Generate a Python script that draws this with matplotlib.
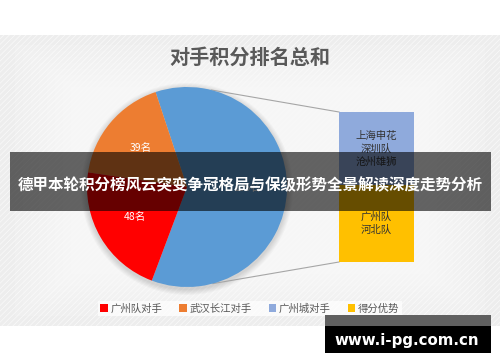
import matplotlib
matplotlib.use('Agg')
import numpy as np
import matplotlib.pyplot as plt
from matplotlib.patches import Rectangle, Circle

plt.rcParams['font.family'] = ['Noto Sans CJK SC', 'DejaVu Sans']
plt.rcParams['hatch.linewidth'] = 0.6

# 数据
pie_labels = ['广州队对手', '武汉长江对手']
pie_values = [48, 39]
bar_labels = ['广州城对手', '得分优势']
bar_values = [66, 69]
bar_names = ['上海申花\n深圳队\n沧州雄狮', '广州队\n河北队']
pie_colors = ['#FF0000', '#ED7D31']
other_color = '#5B9BD5'
bar_colors = ['#8FAADC', '#FFC000']

title = '对手积分排名总和'
banner = '德甲本轮积分榜风云突变争冠格局与保级形势全景解读深度走势分析'
site = 'www.i-pg.com.cn'

W, H = 500, 362
fig = plt.figure(figsize=(W / 100, H / 100), dpi=100)
ax = fig.add_axes([0, 0, 1, 1])

# 背景
ax.add_patch(Rectangle((0, H - 326), W, 291, facecolor='#EDEDED', edgecolor='#F8F8F8',
                       hatch='//////', lw=0, zorder=0))
for i in range(8):
    ax.add_patch(Rectangle((15 + i * 8, H - 316 + i * 6), W - 30 - i * 16, 271 - i * 12,
                           facecolor='white', edgecolor='none', alpha=0.12, zorder=0.5))

# 饼图
cx, cy, r = 187, H - 187, 100
for k in range(1, 7):
    ax.add_patch(Circle((cx, cy - 2), r + k, color='black', alpha=0.025, lw=0, zorder=1))

total = sum(pie_values) + sum(bar_values)
vals = [sum(bar_values), pie_values[1], pie_values[0]]
cols = [other_color, pie_colors[1], pie_colors[0]]
wedges, _, autotexts = ax.pie(vals, colors=cols, center=(cx, cy), radius=r,
                              startangle=249.4, counterclock=True,
                              autopct=lambda p: f'{p * total / 100:.0f}名',
                              pctdistance=0.6,
                              textprops=dict(color='white', fontsize=7.5),
                              wedgeprops=dict(lw=0))
for w in wedges:
    w.set_zorder(2)
for t in autotexts:
    t.set_zorder(3)

ax.set_xlim(0, W)
ax.set_ylim(0, H)
ax.set_aspect('auto')
ax.axis('off')

# 连接线
for ang, by in [(76, H - 112), (-75, H - 262)]:
    a = np.deg2rad(ang)
    ax.plot([cx + r * np.cos(a), 339], [cy + r * np.sin(a), by], color='#A6A6A6', lw=0.8, zorder=1.5)

# 堆叠条
bax = fig.add_axes([339 / W, (H - 262) / H, 75 / W, 150 / H])
b1 = bax.bar(0, bar_values[1], width=1, color=bar_colors[1], lw=0)
b0 = bax.bar(0, bar_values[0], width=1, bottom=bar_values[1], color=bar_colors[0], lw=0)
bax.set_xlim(-0.5, 0.5)
bax.set_ylim(0, sum(bar_values))
bax.axis('off')
bax.text(0, bar_values[1] + bar_values[0] / 2, bar_names[0], ha='center', va='center',
         fontsize=7.5, color='#333333', linespacing=1.35)
bax.text(0, bar_values[1] / 2, bar_names[1], ha='center', va='center',
         fontsize=7.5, color='#333333', linespacing=1.35)

# 标题
ax.text(250, H - 57, title, ha='center', va='center', fontsize=14.5, fontweight='semibold', color='#595959')

# 图例
handles = [wedges[2], wedges[1], b0[0], b1[0]]
names = [pie_labels[0], pie_labels[1], bar_labels[0], bar_labels[1]]
leg = ax.legend(handles, names, loc='center', bbox_to_anchor=(250 / W, 1 - 308.5 / H), ncol=4,
                frameon=True, fancybox=False, facecolor='white', edgecolor='none', framealpha=0.7,
                fontsize=7.5, handlelength=0.7, handleheight=0.7, handletextpad=0.3,
                columnspacing=1.6, borderpad=0.25, labelcolor='#595959')

# 横幅
bx = Rectangle((10, H - 211), 481, 59, facecolor='black', alpha=0.6, lw=0, zorder=10)
fig.patches.append(bx)
bx.set_transform(ax.transData)
fig.text(250 / W, 1 - 185 / H, banner, ha='center', va='center', fontsize=11.2,
         fontweight='bold', color='white', zorder=11)

# 网址
fig.patches.append(Rectangle((325 / W, 1 - 326 / H), 166 / W, 11 / H, facecolor='#606060',
                             lw=0, transform=fig.transFigure, zorder=10))
fig.patches.append(Rectangle((325 / W, 1 - 353 / H), 166 / W, 27 / H, facecolor='black',
                             lw=0, transform=fig.transFigure, zorder=10))
fig.text(407 / W, 1 - 340 / H, site, ha='center', va='center', fontsize=10.8,
         fontweight='bold', color='white', family='DejaVu Sans', zorder=11)

fig.savefig('out.png', dpi=100)
